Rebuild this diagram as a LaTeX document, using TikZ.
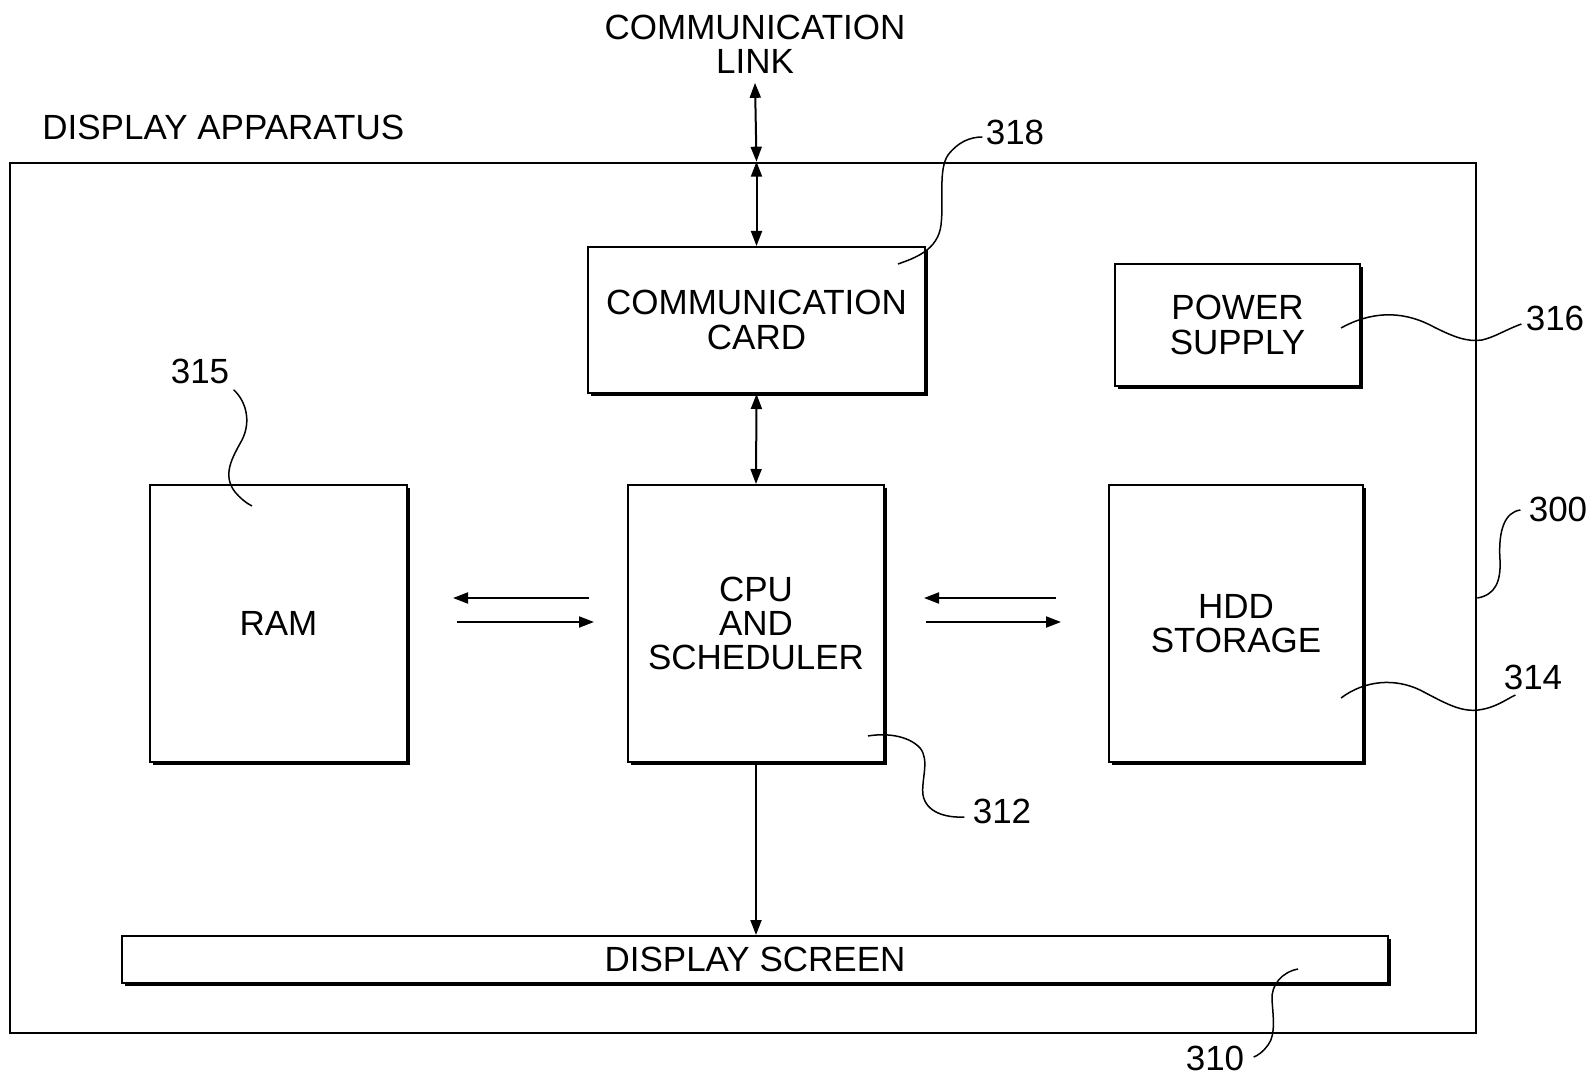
\documentclass[tikz,border=0pt]{standalone}
\usepackage{fontspec}
\setmainfont{Liberation Sans}
\usetikzlibrary{arrows.meta,shadows}
\tikzset{box/.style={draw,line width=1pt,fill=white,align=center,inner sep=0pt,
    drop shadow={shadow xshift=1.4pt,shadow yshift=-1.4pt,fill=black,opacity=1}},
  frame/.style={draw,line width=1.3pt,inner sep=0pt},
  flow/.style={-{Triangle[length=7.5pt,width=5.5pt]},line width=1pt},
  both/.style={{Triangle[length=7.5pt,width=5.5pt]}-{Triangle[length=7.5pt,width=5.5pt]},line width=1pt},
  lead/.style={line width=0.75pt},
  num/.style={inner sep=0pt}}

\begin{document}
\begin{tikzpicture}[x=0.5pt,y=-0.5pt, every node/.style={font=\fontsize{17.5}{17.2}\selectfont}]
\useasboundingbox (0,0) rectangle (1594,1075);
\node[frame,minimum width=733pt,minimum height=435pt] (app) at (743,598) {};
\node[anchor=west,inner sep=0pt] (title) at (42,127) {DISPLAY APPARATUS};
\node[align=center,inner sep=4.5pt] (link) at (755,44) {COMMUNICATION\\LINK};
\node[box,minimum width=168.5pt,minimum height=73pt] (card) at (756.5,320) {COMMUNICATION\\CARD};
\node[box,minimum width=122.5pt,minimum height=61pt] (power) at (1237.5,325) {POWER\\SUPPLY};
\node[box,minimum width=128.5pt,minimum height=138.5pt] (ram) at (278.5,623.5) {RAM};
\node[box,minimum width=128pt,minimum height=138.5pt] (cpu) at (756,623.5) {CPU\\AND\\SCHEDULER};
\node[box,minimum width=127pt,minimum height=138.5pt] (hdd) at (1236,623.5) {HDD\\STORAGE};
\node[box,minimum width=633pt,minimum height=23.5pt] (screen) at (755,959.5) {DISPLAY SCREEN};
\draw[both] (link.south) -- (card.north |- app.north);
\draw[both] (card.north |- app.north) -- (card.north);
\draw[both] (card.south) -- (cpu.north);
\draw[flow] (cpu.south) -- (cpu.south |- screen.north);
\draw[flow] ([shift={(-38,-25.5)}]cpu.west) -- ([shift={(45,-25.5)}]ram.east);
\draw[flow] ([shift={(49,-1.5)}]ram.east) -- ([shift={(-33,-1.5)}]cpu.west);
\draw[flow] ([shift={(-52,-25.5)}]hdd.west) -- ([shift={(39,-25.5)}]cpu.east);
\draw[flow] ([shift={(41,-1.5)}]cpu.east) -- ([shift={(-47,-1.5)}]hdd.west);
\node[num] (n318) at (1015,132) {318};
\node[num] (n316) at (1555,318) {316};
\node[num] (n315) at (200,371) {315};
\node[num] (n300) at (1558,509) {300};
\node[num] (n314) at (1533,677) {314};
\node[num] (n312) at (1002,811) {312};
\node[num] (n310) at (1215,1058) {310};
\draw[lead] ([shift={(-28,18)}]card.north east) .. controls (915,258) and (938,250) .. (941,225)
  .. controls (944,200) and (938,170) .. (948,155) .. controls (958,142) and (970,137) .. ([shift={(-3,5)}]n318.west);
\draw[lead] ([shift={(-20,3)}]power.east) .. controls (1370,312) and (1400,310) .. (1430,325)
  .. controls (1455,338) and (1468,342) .. (1482,340) .. controls (1495,337) and (1505,330) .. ([shift={(-4,6)}]n316.west);
\draw[lead] ([shift={(4,6)}]n315.south east) .. controls (245,400) and (252,420) .. (242,440)
  .. controls (232,458) and (222,475) .. (235,492) .. controls (240,498) and (246,503) .. ([shift={(103,22)}]ram.north west);
\draw[lead] (app.east) .. controls (1495,595) and (1501,582) .. (1500,560)
  .. controls (1498,530) and (1505,512) .. ([shift={(-8,1)}]n300.west);
\draw[lead] ([shift={(-23,74.5)}]hdd.east) .. controls (1365,680) and (1395,678) .. (1420,690)
  .. controls (1445,703) and (1460,712) .. (1478,710) .. controls (1495,708) and (1505,700) .. ([shift={(12,18)}]n314.west);
\draw[lead] ([shift={(-17,-27)}]cpu.south east) .. controls (885,733) and (908,735) .. (920,748)
  .. controls (930,760) and (921,780) .. (923,795) .. controls (926,812) and (945,818) .. ([shift={(-8,6)}]n312.west);
\draw[lead] ([shift={(-91,-15)}]screen.south east) .. controls (1282,972) and (1271,985) .. (1272,1000)
  .. controls (1273,1015) and (1276,1035) .. (1268,1045) .. controls (1263,1052) and (1257,1056) .. ([shift={(9,-1)}]n310.east);
\end{tikzpicture}
\end{document}
